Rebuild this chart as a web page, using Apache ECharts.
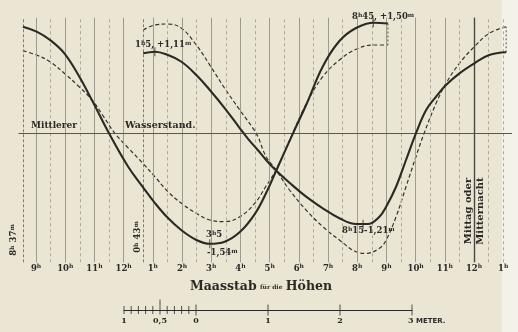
<!DOCTYPE html>
<html><head><meta charset="utf-8">
<script src="https://cdn.jsdelivr.net/npm/echarts@6/dist/echarts.min.js"></script>
<style>html,body{margin:0;padding:0;background:#ebe6d4;}#c{width:518px;height:332px;}</style>
</head><body><div id="c"></div>
<script>
// ---- data (time in hours, 9 = 9h a.m., 24 = noon/midnight; height in metres from mean level)
const hourTicks = [9,10,11,12,13,14,15,16,17,18,19,20,21,22,23,24,25];
const solidHourLines = [9,10,11,12,13,14,15,16,17,18,19,20,21,22,23];
const noonLine = [24];
const dashedLines = [9.5,10.5,11.5,13.5,14.5,15.5,16.5,17.5,18.5,19.5,20.5,21.5,22.5,23.5,24.5,25];
const startTimes = [8.55, 12.67];
const meanLevel = [0];

const solid1 = [[8.55,1.446],[9.02,1.379],[9.48,1.266],[9.97,1.085],[10.45,0.79],[10.94,0.43],[11.5,0],[12.15,-0.45],[12.66,-0.73],[13.08,-0.95],[13.52,-1.15],[13.98,-1.315],[14.49,-1.447],[14.95,-1.499],[15.46,-1.471],[15.98,-1.34],[16.49,-1.096],[16.88,-0.81],[17.22,-0.512],[17.8,0],[18.25,0.384],[18.82,0.907],[19.39,1.252],[19.96,1.429],[20.58,1.501],[21.05,1.49]];
const dashed1 = [[8.55,1.121],[9.02,1.062],[9.48,0.971],[9.97,0.814],[10.45,0.642],[10.92,0.452],[11.3,0.235],[11.7,0],[12.16,-0.2],[12.66,-0.407],[13.07,-0.589],[13.52,-0.792],[13.98,-0.95],[14.49,-1.085],[14.95,-1.176],[15.46,-1.199],[15.98,-1.132],[16.49,-0.95],[16.88,-0.715],[17.22,-0.498],[17.79,0],[18.25,0.398],[18.82,0.768],[19.39,0.995],[19.96,1.14],[20.53,1.198],[21.05,1.198]];
const solid2 = [[12.67,1.085],[13.07,1.107],[13.52,1.062],[13.98,0.971],[14.49,0.791],[14.95,0.588],[15.46,0.343],[15.98,0.068],[16.26,-0.075],[16.6,-0.23],[16.88,-0.362],[17.22,-0.505],[17.68,-0.67],[18.25,-0.86],[18.82,-1.018],[19.39,-1.153],[19.96,-1.231],[20.36,-1.231],[20.76,-1.132],[20.99,-0.996],[21.33,-0.725],[21.67,-0.362],[22.01,0],[22.36,0.316],[22.7,0.497],[23.04,0.655],[23.5,0.814],[24.01,0.95],[24.52,1.062],[25.1,1.099]];
const dashed2 = [[12.67,1.402],[13.07,1.47],[13.52,1.483],[13.98,1.425],[14.49,1.198],[14.95,0.927],[15.46,0.611],[15.98,0.316],[16.43,0.068],[16.6,-0.046],[16.88,-0.318],[17.22,-0.498],[17.68,-0.769],[18.25,-1.041],[18.82,-1.267],[19.39,-1.448],[19.96,-1.607],[20.3,-1.628],[20.76,-1.56],[20.99,-1.448],[21.33,-1.132],[21.67,-0.725],[22.01,-0.318],[22.29,0],[22.7,0.407],[23.04,0.678],[23.5,0.95],[24.01,1.175],[24.52,1.357],[25.1,1.446]];
const extremaMarks = [[13.07,1.107],[14.95,-1.499],[20.2,-1.235],[20.55,1.501]];

// height scale (metres)
const scaleLabels = [-1,-0.5,0,1,2,3];
const scaleMinorTicks = [-1,-0.9,-0.8,-0.7,-0.6,-0.4,-0.3,-0.2,-0.1];
const scaleHalfTick = [-0.5];
const scaleMajorTicks = [0,1,2,3];

// ---- styling
const INK = '#2c2925';
const SERIF = '"DejaVu Serif", "Liberation Serif", serif';
const gridSolid = {color:'#9e9a8c', width:1, type:'solid'};
const gridDash = {color:'#aca798', width:1, type:[3,3]};

const vline = (arr, style) => arr.map(v => ({xAxis: v, lineStyle: style}));
const endSeg = (s, d) => { const a = s[s.length-1], b = d[d.length-1]; return [[a[0],a[1]],[b[0],b[1]]]; };
const clock = v => ((v - 1) % 12) + 1;

const chart = echarts.init(document.getElementById('c'), null, {renderer:'canvas'});
const supRich = {
  n:{fontFamily:SERIF, fontWeight:'bold', fontSize:8.5, color:INK},
  s:{fontFamily:SERIF, fontWeight:'bold', fontSize:6, color:INK, padding:[0,0,5,0]}
};
const richSmall = {
  n:{fontFamily:SERIF, fontWeight:'bold', fontSize:8.5, fill:INK, color:INK},
  s:{fontFamily:SERIF, fontWeight:'bold', fontSize:6, fill:INK, color:INK, padding:[0,0,4,0]}
};
function txt(x, y, text, opt) {
  opt = opt || {};
  return {type:'text', x:x, y:y, rotation: opt.rot || 0, z:10,
    style:{text:text, fill:INK, font: 'bold ' + (opt.size||9) + 'px ' + SERIF,
      align: opt.align || 'left', verticalAlign: 'middle', rich: opt.rich}};
}
const curve = (name, data, dashed) => ({type:'line', name:name, data:data, smooth:0.4, showSymbol:false,
  z: dashed ? 4 : 5,
  lineStyle: dashed ? {color:'#35322d', width:1.2, type:[4,2.5]} : {color:INK, width:2.1}});

const option = {
  backgroundColor:'#ebe6d4',
  animation:false,
  grid:[
    {left:18.5, right:6, top:17.6, bottom:69.7},
    {left:124, width:288, top:300, height:10}
  ],
  xAxis:[
    {type:'value', gridIndex:0, min:8.4, max:25.3, axisLine:{show:false}, axisTick:{show:false}, splitLine:{show:false},
     axisLabel:{customValues:hourTicks, margin:1, formatter:v => '{n|' + clock(v) + '}{s|h}', rich:supRich}},
    {type:'value', gridIndex:1, min:-1, max:3, axisLine:{show:true, lineStyle:{color:INK, width:1}},
     axisTick:{show:false}, splitLine:{show:false},
     axisLabel:{customValues:scaleLabels, margin:7, color:INK, fontFamily:SERIF, fontWeight:'bold', fontSize:8,
       formatter:v => v===3 ? '{p|METER.}3{r| METER.}' : (v===-1 ? '1' : v===-0.5 ? '0,5' : String(v)),
       rich:{p:{color:'rgba(0,0,0,0)', fontFamily:'"DejaVu Sans", sans-serif', fontWeight:'bold', fontSize:7},
             r:{color:INK, fontFamily:'"DejaVu Sans", sans-serif', fontWeight:'bold', fontSize:7}}}}
  ],
  yAxis:[
    {type:'value', gridIndex:0, min:-1.75, max:1.57, show:false},
    {type:'value', gridIndex:1, min:0, max:1, show:false}
  ],
  graphic:[
    {type:'rect', shape:{x:502, y:0, width:16, height:332}, style:{fill:'#f3f1e8'}, z:-10, silent:true},
    txt(31, 126, 'Mittlerer', {size:9}),
    txt(125, 126, 'Wasserstand.', {size:9.5}),
    txt(135, 45, '{n|1}{s|h}{n|5, +1,11}{s|m}', {rich:richSmall}),
    txt(352, 17, '{n|8}{s|h}{n|45, +1,50}{s|m}', {rich:richSmall}),
    txt(206, 235, '{n|3}{s|h}{n|5}', {rich:richSmall}),
    txt(207, 253, '{n|-1,54}{s|m}', {rich:richSmall}),
    txt(342, 231, '{n|8}{s|h}{n|15-1,21}{s|m}', {rich:richSmall}),
    txt(14, 240, '{n|8}{s|h} {n|37}{s|m}', {rich:richSmall, rot:Math.PI/2, align:'center'}),
    txt(138, 237, '{n|0}{s|h} {n|43}{s|m}', {rich:richSmall, rot:Math.PI/2, align:'center'}),
    txt(468.5, 211, 'Mittag oder', {rot:Math.PI/2, align:'center', size:10}),
    txt(480.5, 211, 'Mitternacht', {rot:Math.PI/2, align:'center', size:10}),
    {type:'text', x:261, y:287, z:10, style:{text:'{a|Maasstab} {b|für die} {a|Höhen}', align:'center', verticalAlign:'middle',
      rich:{a:{fontFamily:SERIF, fontWeight:'bold', fontSize:12.5, fill:INK, color:INK},
            b:{fontFamily:SERIF, fontWeight:'bold', fontSize:6, fill:INK, color:INK}}}}
  ],
  series:[
    {type:'line', name:'grid', xAxisIndex:0, yAxisIndex:0, data:[], z:1, silent:true,
     markLine:{symbol:'none', silent:true, animation:false, label:{show:false},
       data:[].concat(
         vline(solidHourLines, gridSolid),
         vline(dashedLines, gridDash),
         vline(startTimes, {color:'#7f7b70', width:1, type:[3,2]}),
         vline(noonLine, {color:'#4a4740', width:1.4, type:'solid'}),
         meanLevel.map(v => ({yAxis:v, lineStyle:{color:'#5a564d', width:1, type:'solid'}}))
       )}},
    curve('solid1', solid1, false),
    curve('dashed1', dashed1, true),
    curve('solid2', solid2, false),
    curve('dashed2', dashed2, true),
    {type:'line', name:'end1', data:endSeg(solid1, dashed1), showSymbol:false, z:4, lineStyle:{color:'#55524a', width:1, type:[2,2]}},
    {type:'line', name:'end2', data:endSeg(solid2, dashed2), showSymbol:false, z:4, lineStyle:{color:'#55524a', width:1, type:[2,2]}},
    {type:'scatter', name:'extrema', data:extremaMarks, symbol:'rect', symbolSize:[1,9], z:6, itemStyle:{color:INK}},
    {type:'scatter', xAxisIndex:1, yAxisIndex:1, data:scaleMinorTicks.map(v=>[v,0]), symbol:'rect', symbolSize:[1,8], itemStyle:{color:INK}},
    {type:'scatter', xAxisIndex:1, yAxisIndex:1, data:scaleHalfTick.map(v=>[v,0]), symbol:'rect', symbolSize:[1,15], symbolOffset:[0,-3], itemStyle:{color:INK}},
    {type:'scatter', xAxisIndex:1, yAxisIndex:1, data:scaleMajorTicks.map(v=>[v,0]), symbol:'rect', symbolSize:[1,11], itemStyle:{color:INK}}
  ]
};
chart.setOption(option);
</script></body></html>
